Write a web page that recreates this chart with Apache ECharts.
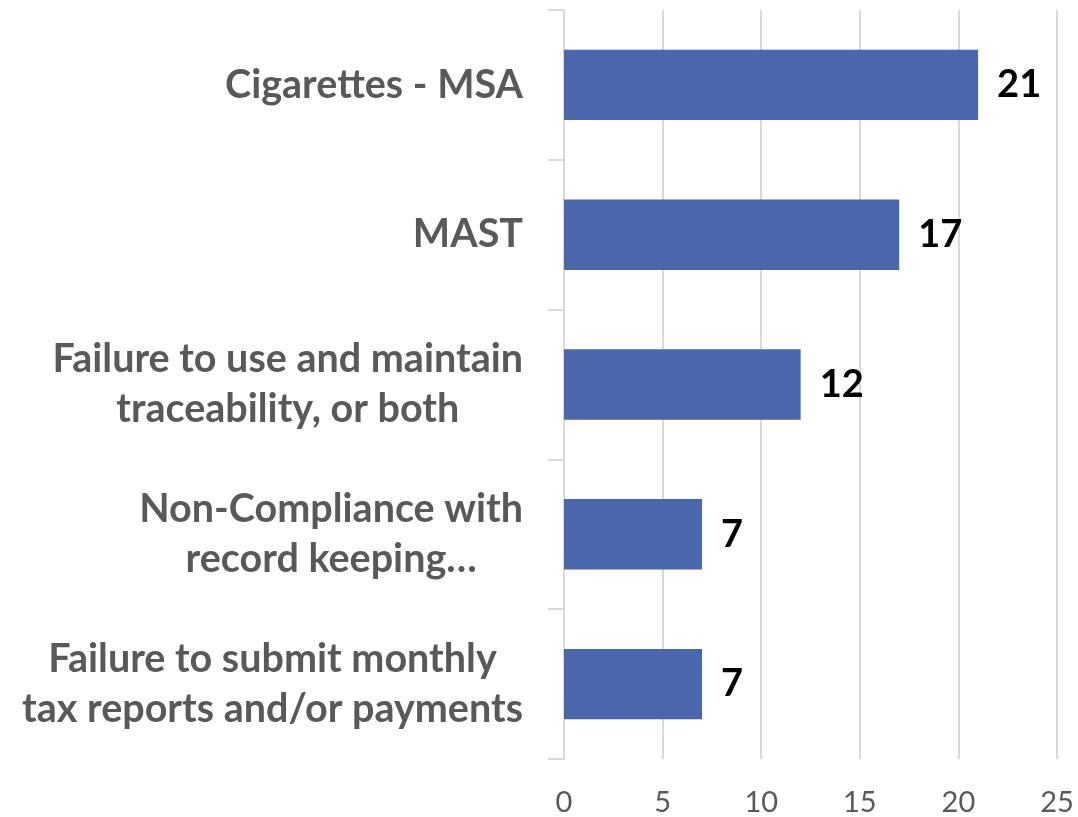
<!DOCTYPE html>
<html>
<head>
<meta charset="utf-8">
<script src="https://cdn.jsdelivr.net/npm/echarts@6/dist/echarts.min.js"></script>
<style>
  html, body { margin: 0; padding: 0; background: #fff; }
  #chart { width: 1078px; height: 817px; }
</style>
</head>
<body>
<div id="chart"></div>
<script>
// categories, top to bottom
const categories = [
  'Cigarettes - MSA',
  'MAST',
  'Failure to use and maintain\ntraceability, or both',
  'Non-Compliance with\nrecord keeping…',
  'Failure to submit monthly\ntax reports and/or payments'
];
const counts = [21, 17, 12, 7, 7];
const xTicks = [0, 5, 10, 15, 20, 25];

const chart = echarts.init(document.getElementById('chart'), null, { renderer: 'canvas' });

chart.setOption({
  animation: false,
  grid: { left: 564, right: 21, top: 10, bottom: 54, containLabel: false },
  xAxis: {
    type: 'value',
    min: xTicks[0],
    max: xTicks[xTicks.length - 1],
    interval: 5,
    axisLine: { show: false },
    axisTick: { show: false },
    splitLine: { show: true, lineStyle: { color: '#d9d9d9', width: 2 } },
    axisLabel: {
      margin: 29,
      color: '#595959',
      fontFamily: 'Lato',
      fontSize: 29
    }
  },
  yAxis: {
    type: 'category',
    inverse: true,
    data: categories,
    axisLine: { show: true, lineStyle: { color: '#d9d9d9', width: 2 } },
    axisTick: { show: true, length: 16, lineStyle: { color: '#d9d9d9', width: 2 } },
    axisLabel: {
      margin: 41,
      align: 'right',
      formatter: function (v) {
        // each line centred inside the right-aligned block
        return v.split('\n').map(function (s) { return '{c|' + s + '}'; }).join('\n');
      },
      rich: {
        c: {
          align: 'center',
          color: '#595959',
          fontFamily: 'Lato',
          fontWeight: 'bold',
          fontSize: 39.5,
          lineHeight: 50
        }
      }
    }
  },
  series: [{
    type: 'bar',
    data: counts,
    barWidth: '47%',
    itemStyle: { color: '#4a66ac' },
    label: {
      show: true,
      position: 'right',
      distance: 19,
      color: '#000',
      fontFamily: 'Lato',
      fontWeight: 'bold',
      fontSize: 38
    }
  }]
});
</script>
</body>
</html>
